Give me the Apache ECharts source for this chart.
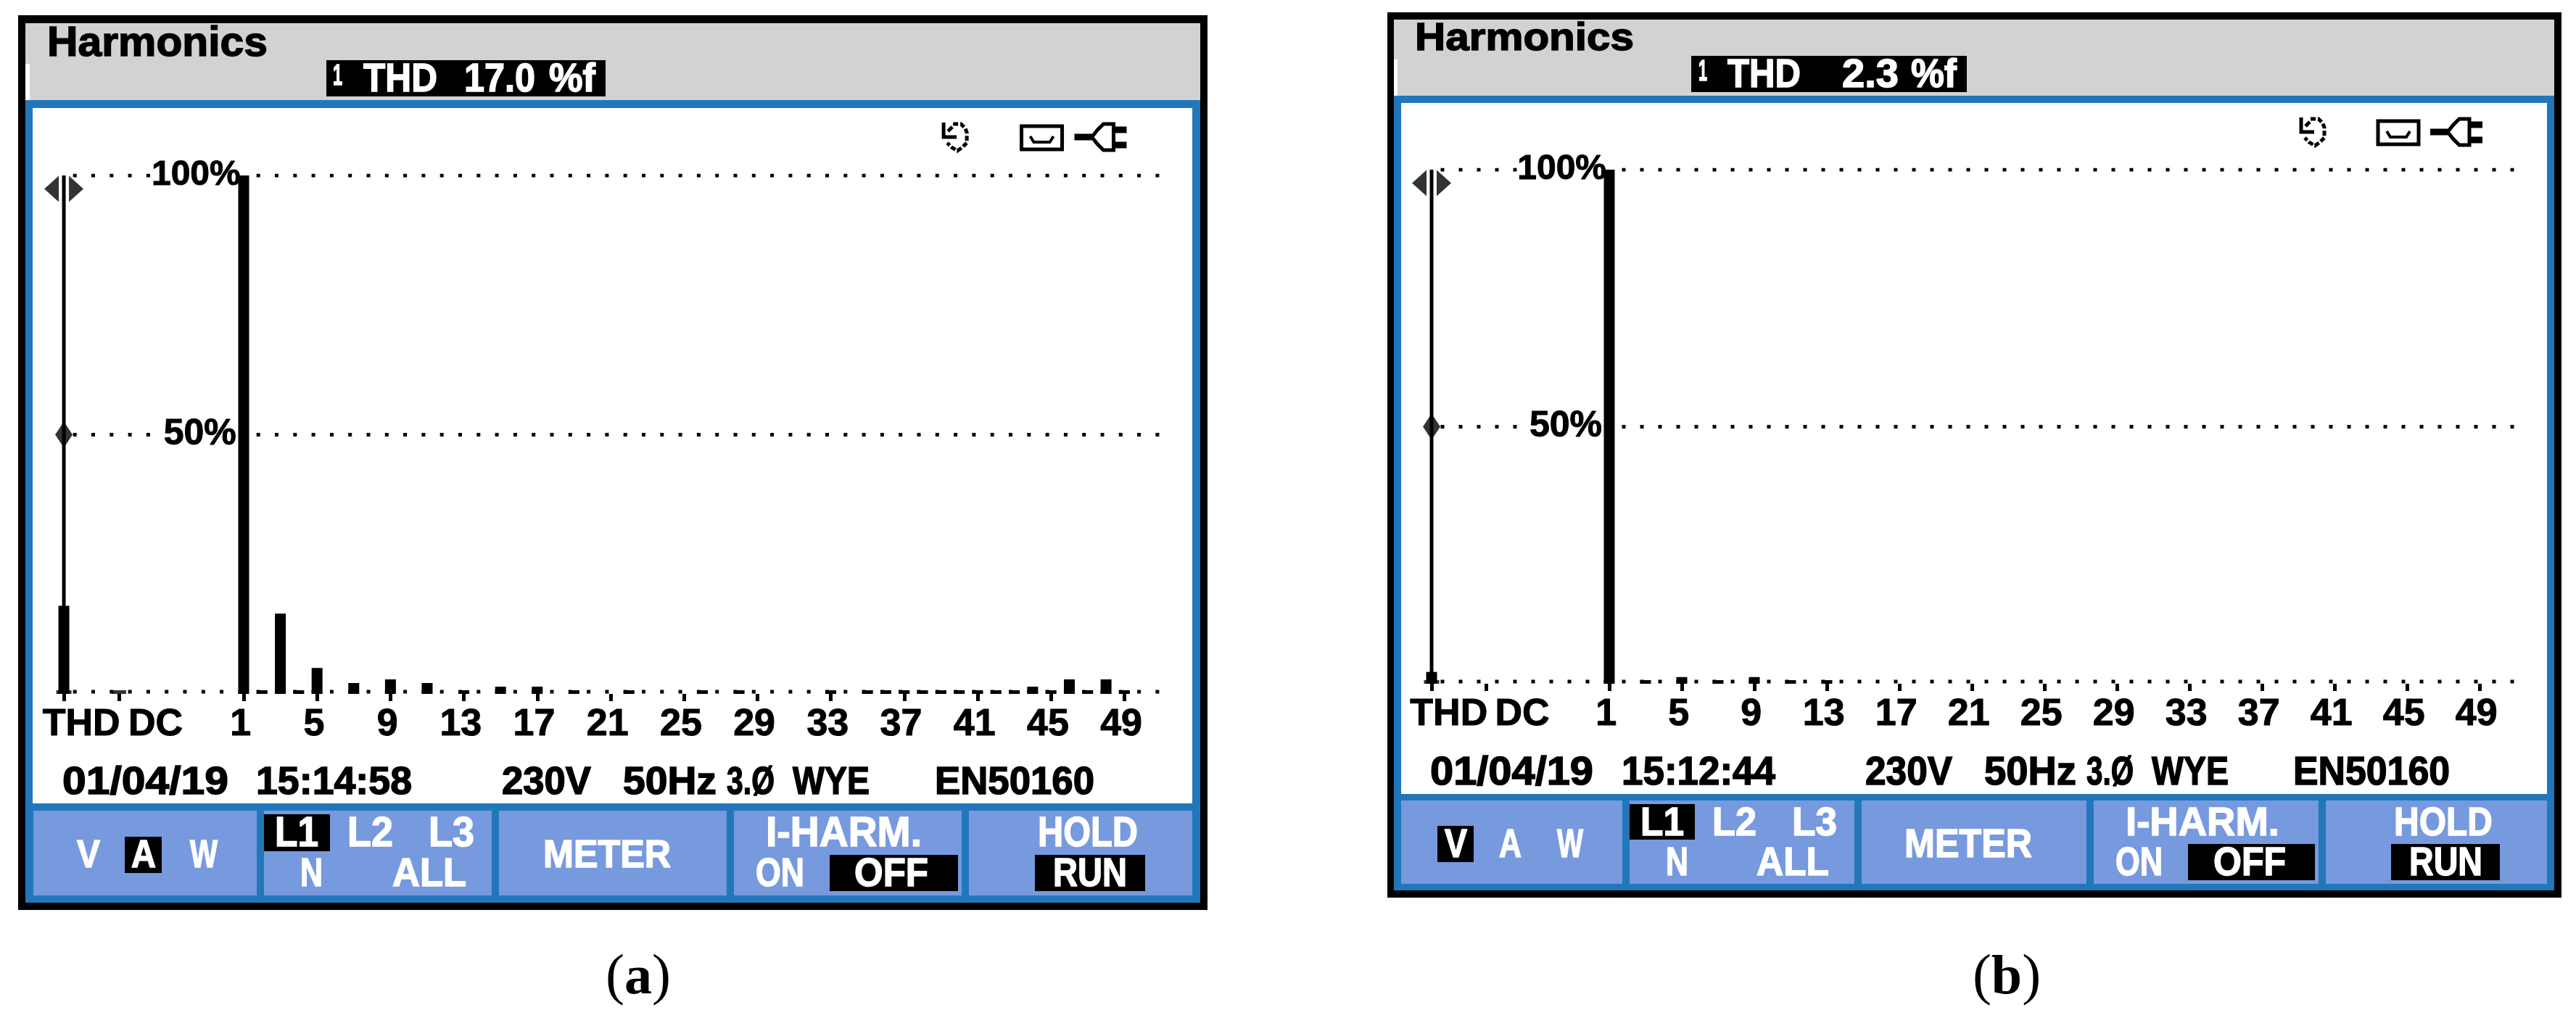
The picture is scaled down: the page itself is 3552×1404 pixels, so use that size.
<!DOCTYPE html>
<html><head><meta charset="utf-8">
<script src="https://cdn.jsdelivr.net/npm/echarts@6/dist/echarts.min.js"></script>
<style>html,body{margin:0;background:#fff}#c{width:3552px;height:1404px}</style></head>
<body><div id="c"></div>
<script>
// ---- data ----
const tickLabels = ['THD','DC','1','5','9','13','17','21','25','29','33','37','41','45','49'];
const yLabels = [50, 100];
const thdA = 17.0, dcA = 0;
const harmonicsA = [100,0.7,15.5,0.7,5.0,0,2.1,0,2.8,0,2.1,0,0.7,0,1.4,0,1.4,0,0.7,0,0,0.7,0,0,0,0.7,0,0.7,0,0,0,0,0.7,0,0.7,0.7,0.7,0.7,0.7,0.7,0.7,0.7,0.7,1.4,0.7,2.8,0.7,2.8,0.7,0];
const thdB = 2.3, dcB = 0;
const harmonicsB = [100,0,0.7,0,1.3,0,0.7,0,1.3,0,0.7,0,0.7,0,0,0,0,0,0,0,0,0,0,0,0,0,0,0,0,0,0,0,0,0,0,0,0,0,0,0,0,0,0,0,0,0,0,0,0,0];

// ---- slots of the x axis (harmonic order units) ----
const THD_SLOT = -8.8, DC_SLOT = -5.8, THD_LABEL = -7.85, DC_LABEL = -3.8, LABEL_SHIFT = -0.17;
const DOT_Y = 0.42, BASE_DASH = 0.35;
const BLACK='#000', BLUE='#2277BB', BTN='#7799DD', GREY='#D2D2D2', WHITE='#fff';

const FONT='"Liberation Sans"';
const measure=document.createElement('canvas').getContext('2d');
const els=[];
function rect(x0,y0,x1,y1,fill){els.push({type:'rect',z:-1,silent:true,shape:{x:x0,y:y0,width:x1-x0,height:y1-y0},style:{fill}});}
function label(t,x0,x1,y0,y1,fill){
  const fs=(y1-y0)/0.729;
  const font=`bold ${fs}px ${FONT}`;
  measure.font=font;
  const w=measure.measureText(t).width;
  const c=fill||BLACK;
  els.push({type:'text',z:-1,silent:true,x:x0,y:(y0+y1)/2+3,scaleX:(x1-x0)/w,
    style:{text:t,font,fill:c,stroke:c,lineWidth:1.5,textAlign:'left',textVerticalAlign:'middle'}});
}
function line(pts,w,cx,cy,dash){els.push({type:'polyline',z:-1,silent:true,shape:{points:pts.map(p=>[p[0]+cx,p[1]+cy])},style:{stroke:BLACK,fill:null,lineWidth:w,lineDash:dash||null}});}
function icons(plotRight,cy,k){
  const u=plotRight-323*k, t=plotRight-205*k, p=plotRight-125*k;
  // rotation-direction icon
  line([[-16,-20],[-16,0],[2,0]],5,u,cy);
  line([[-10,-8],[-4,-14]],5,u,cy);
  line([[-3,-18],[8,-18],[14,-12],[16,-6],[16,8],[10,14],[3,19],[-5,14],[-11,8]],5,u,cy,[7,3]);
  // tape icon
  els.push({type:'rect',z:-1,silent:true,shape:{x:t-28,y:cy-15,width:56,height:32},style:{fill:null,stroke:BLACK,lineWidth:5}});
  line([[-16,-1],[-11,7],[11,7],[16,-1]],4,t,cy);
  // plug icon
  line([[-36,0],[-12,0]],9,p,cy);
  line([[-12,0],[-4,-10],[4,-18],[18,-18],[18,18],[4,18],[-4,10],[-12,0]],5,p,cy);
  line([[18,-10],[36,-10]],9,p,cy);
  line([[18,11],[36,11]],9,p,cy);
}
function caption(t,cx,y){
  els.push({type:'text',z:-1,silent:true,x:cx,y,style:{text:'('+'{b|'+t+'})',rich:{b:{font:'bold 76px "Liberation Serif"',fill:BLACK}},font:'78px "Liberation Serif"',fill:BLACK,textAlign:'center',textVerticalAlign:'middle'}});
}

// ---- panel (a) chrome ----
rect(25,21,1665,1255,BLACK);
rect(35,32,1655,138,GREY); rect(35,88,41,138,WHITE);
rect(35,138,1655,1245,BLUE);
rect(45,149,1644,1108,WHITE);
[[46,354],[364,678],[688,1002],[1012,1326],[1336,1644]].forEach(b=>rect(b[0],1118,b[1],1235,BTN));
label('Harmonics',65,369,37,79);
rect(450,83,835,133,BLACK);
label('1',459,472,88,118,WHITE); label('THD',501,603,88,128,WHITE); label('17.0',640,738,88,128,WHITE); label('%f',757,821,88,128,WHITE);
icons(1644,189,1.012);
label('01/04/19',86,315,1058,1097); label('15:14:58',353,568,1058,1097); label('230V',692,815,1058,1097);
label('50Hz',859,988,1058,1097); label('3.Ø',1002,1068,1058,1097); label('WYE',1093,1199,1058,1097); label('EN50160',1289,1509,1058,1097);
label('V',106,138,1159,1198,WHITE); rect(172,1154,223,1204,BLACK); label('A',181,215,1159,1198,WHITE); label('W',262,300,1159,1198,WHITE);
rect(364,1123,455,1174,BLACK); label('L1',379,439,1127,1169,WHITE); label('L2',479,542,1127,1169,WHITE); label('L3',591,654,1127,1169,WHITE);
label('N',414,445,1184,1224,WHITE); label('ALL',541,643,1184,1224,WHITE);
label('METER',749,925,1159,1198,WHITE);
label('I-HARM.',1056,1271,1127,1169,WHITE); label('ON',1042,1109,1184,1224,WHITE); rect(1144,1179,1321,1229,BLACK); label('OFF',1178,1280,1184,1224,WHITE);
label('HOLD',1431,1569,1127,1169,WHITE); rect(1427,1179,1579,1229,BLACK); label('RUN',1452,1554,1184,1224,WHITE);
caption('a',880,1350);

// ---- panel (b) chrome ----
rect(1913,17,3532,1238,BLACK);
rect(1922,27,3522,132,GREY); rect(1922,82,1927,132,WHITE);
rect(1922,132,3522,1228,BLUE);
rect(1932,142,3512,1095,WHITE);
[[1932,2237],[2247,2557],[2567,2877],[2887,3197],[3207,3512]].forEach(b=>rect(b[0],1104,b[1],1219,BTN));
label('Harmonics',1951,2253,32,71);
rect(2332,77,2712,127,BLACK);
label('1',2342,2354,82,112,WHITE); label('THD',2382,2483,82,122,WHITE); label('2.3',2540,2618,82,122,WHITE); label('%f',2635,2698,82,122,WHITE);
icons(3512,182,1);
label('01/04/19',1972,2197,1044,1084); label('15:12:44',2236,2448,1044,1084); label('230V',2572,2692,1044,1084);
label('50Hz',2736,2863,1044,1084); label('3.Ø',2877,2942,1044,1084); label('WYE',2967,3073,1044,1084); label('EN50160',3162,3378,1044,1084);
rect(1982,1139,2032,1189,BLACK); label('V',1992,2023,1144,1184,WHITE); label('A',2067,2098,1144,1184,WHITE); label('W',2147,2183,1144,1184,WHITE);
rect(2247,1109,2337,1158,BLACK); label('L1',2262,2322,1113,1154,WHITE); label('L2',2361,2422,1113,1154,WHITE); label('L3',2471,2533,1113,1154,WHITE);
label('N',2297,2328,1169,1209,WHITE); label('ALL',2422,2522,1169,1209,WHITE);
label('METER',2626,2802,1144,1184,WHITE);
label('I-HARM.',2931,3143,1113,1154,WHITE); label('ON',2917,2982,1169,1209,WHITE); rect(3017,1164,3192,1214,BLACK); label('OFF',3052,3152,1169,1209,WHITE);
label('HOLD',3301,3437,1113,1154,WHITE); rect(3297,1164,3447,1214,BLACK); label('RUN',3322,3423,1169,1209,WHITE);
caption('b',2767,1350);

// ---- chart ----
const slotOf=t=>t==='THD'?THD_LABEL:t==='DC'?DC_LABEL:(+t+LABEL_SHIFT);
const tickSlots=tickLabels.map(t=>t==='THD'?THD_SLOT:t==='DC'?DC_SLOT:+t);
const labelSlots=tickLabels.map(slotOf);
const textOf=v=>{const i=labelSlots.findIndex(s=>Math.abs(s-v)<1e-6);return i<0?'':tickLabels[i];};
const X_MIN=-10,X_MAX=52;

function xAxis(gi){return {type:'value',gridIndex:gi,min:X_MIN,max:X_MAX,position:'bottom',
  splitLine:{show:false},axisLine:{show:false,onZero:false},
  axisTick:{show:true,length:10,customValues:tickSlots,lineStyle:{color:BLACK,width:5}},
  axisLabel:{show:true,customValues:labelSlots,formatter:textOf,margin:17,hideOverlap:false,
    color:BLACK,fontSize:52,fontWeight:'bold',fontFamily:FONT,textBorderColor:BLACK,textBorderWidth:1}};}
function yAxis(gi,margin){return {type:'value',gridIndex:gi,min:0,max:100,interval:50,
  splitLine:{show:false},axisLine:{show:false,onZero:false},axisTick:{show:false},
  axisLabel:{show:true,inside:true,margin,align:'right',customValues:yLabels,
    formatter:v=>v===100?'{a|100%}':'{b|50%}',
    rich:{a:{color:BLACK,fontSize:48,fontWeight:'bold',fontFamily:FONT,textBorderColor:BLACK,textBorderWidth:1},
          b:{color:BLACK,fontSize:50,fontWeight:'bold',fontFamily:FONT,textBorderColor:BLACK,textBorderWidth:1,padding:[0,6,0,0]}}}};}
function gridSeg(i,pts,gap){return {type:'line',xAxisIndex:i,yAxisIndex:i,data:pts,showSymbol:false,symbol:'none',silent:true,z:1,
  lineStyle:{color:BLACK,width:5,type:[5,gap],cap:'butt'}};}
function panelSeries(i,thd,dc,vals,gap){
  const bars=[[THD_SLOT,thd],[DC_SLOT,dc]].concat(vals.map((v,k)=>[k+1,v]));
  const s=[];
  [[-8.3,-4.05],[1.7,50.9]].forEach(r=>{[100,50].forEach(y=>s.push(gridSeg(i,[[r[0],y],[r[1],y]],gap)));});
  s.push(gridSeg(i,[[-8.3,DOT_Y],[50.9,DOT_Y]],gap));
  s.push({type:'bar',xAxisIndex:i,yAxisIndex:i,data:bars,barWidth:15,itemStyle:{color:BLACK},silent:true,z:3,clip:false});
  s.push({type:'line',xAxisIndex:i,yAxisIndex:i,data:[[THD_SLOT,0],[THD_SLOT,100]],symbol:'none',silent:true,z:3,lineStyle:{color:BLACK,width:5}});
  const mk=(p,sym,size,rot,off)=>({type:'scatter',xAxisIndex:i,yAxisIndex:i,data:[p],symbol:sym,symbolSize:size,symbolRotate:rot,symbolOffset:off,itemStyle:{color:BLACK},silent:true,z:4});
  s.push(mk([THD_SLOT,97.4],'triangle',[36,20],90,[-17,0]));
  s.push(mk([THD_SLOT,97.4],'triangle',[36,20],-90,[17,0]));
  s.push(mk([THD_SLOT,50],'diamond',[24,36],0,[0,0]));
  s.push(mk([THD_SLOT,BASE_DASH],'rect',[21,5],0,[0,0]));
  return s;
}
const extraA={type:'scatter',xAxisIndex:0,yAxisIndex:0,data:[[DC_SLOT,BASE_DASH]],symbol:'rect',symbolSize:[20,5],itemStyle:{color:BLACK},silent:true,z:4};

const chart=echarts.init(document.getElementById('c'),null,{renderer:'canvas'});
chart.setOption({
  animation:false,backgroundColor:'#fff',
  graphic:{elements:els},
  grid:[{left:57.7,top:242,width:1568.6,height:715},{left:1944,top:234,width:1550,height:709}],
  xAxis:[xAxis(0),xAxis(1)],
  yAxis:[yAxis(0,274),yAxis(1,271)],
  series:[...panelSeries(0,thdA,dcA,harmonicsA,20.3),extraA,...panelSeries(1,thdB,dcB,harmonicsB,20)]
});
</script></body></html>
